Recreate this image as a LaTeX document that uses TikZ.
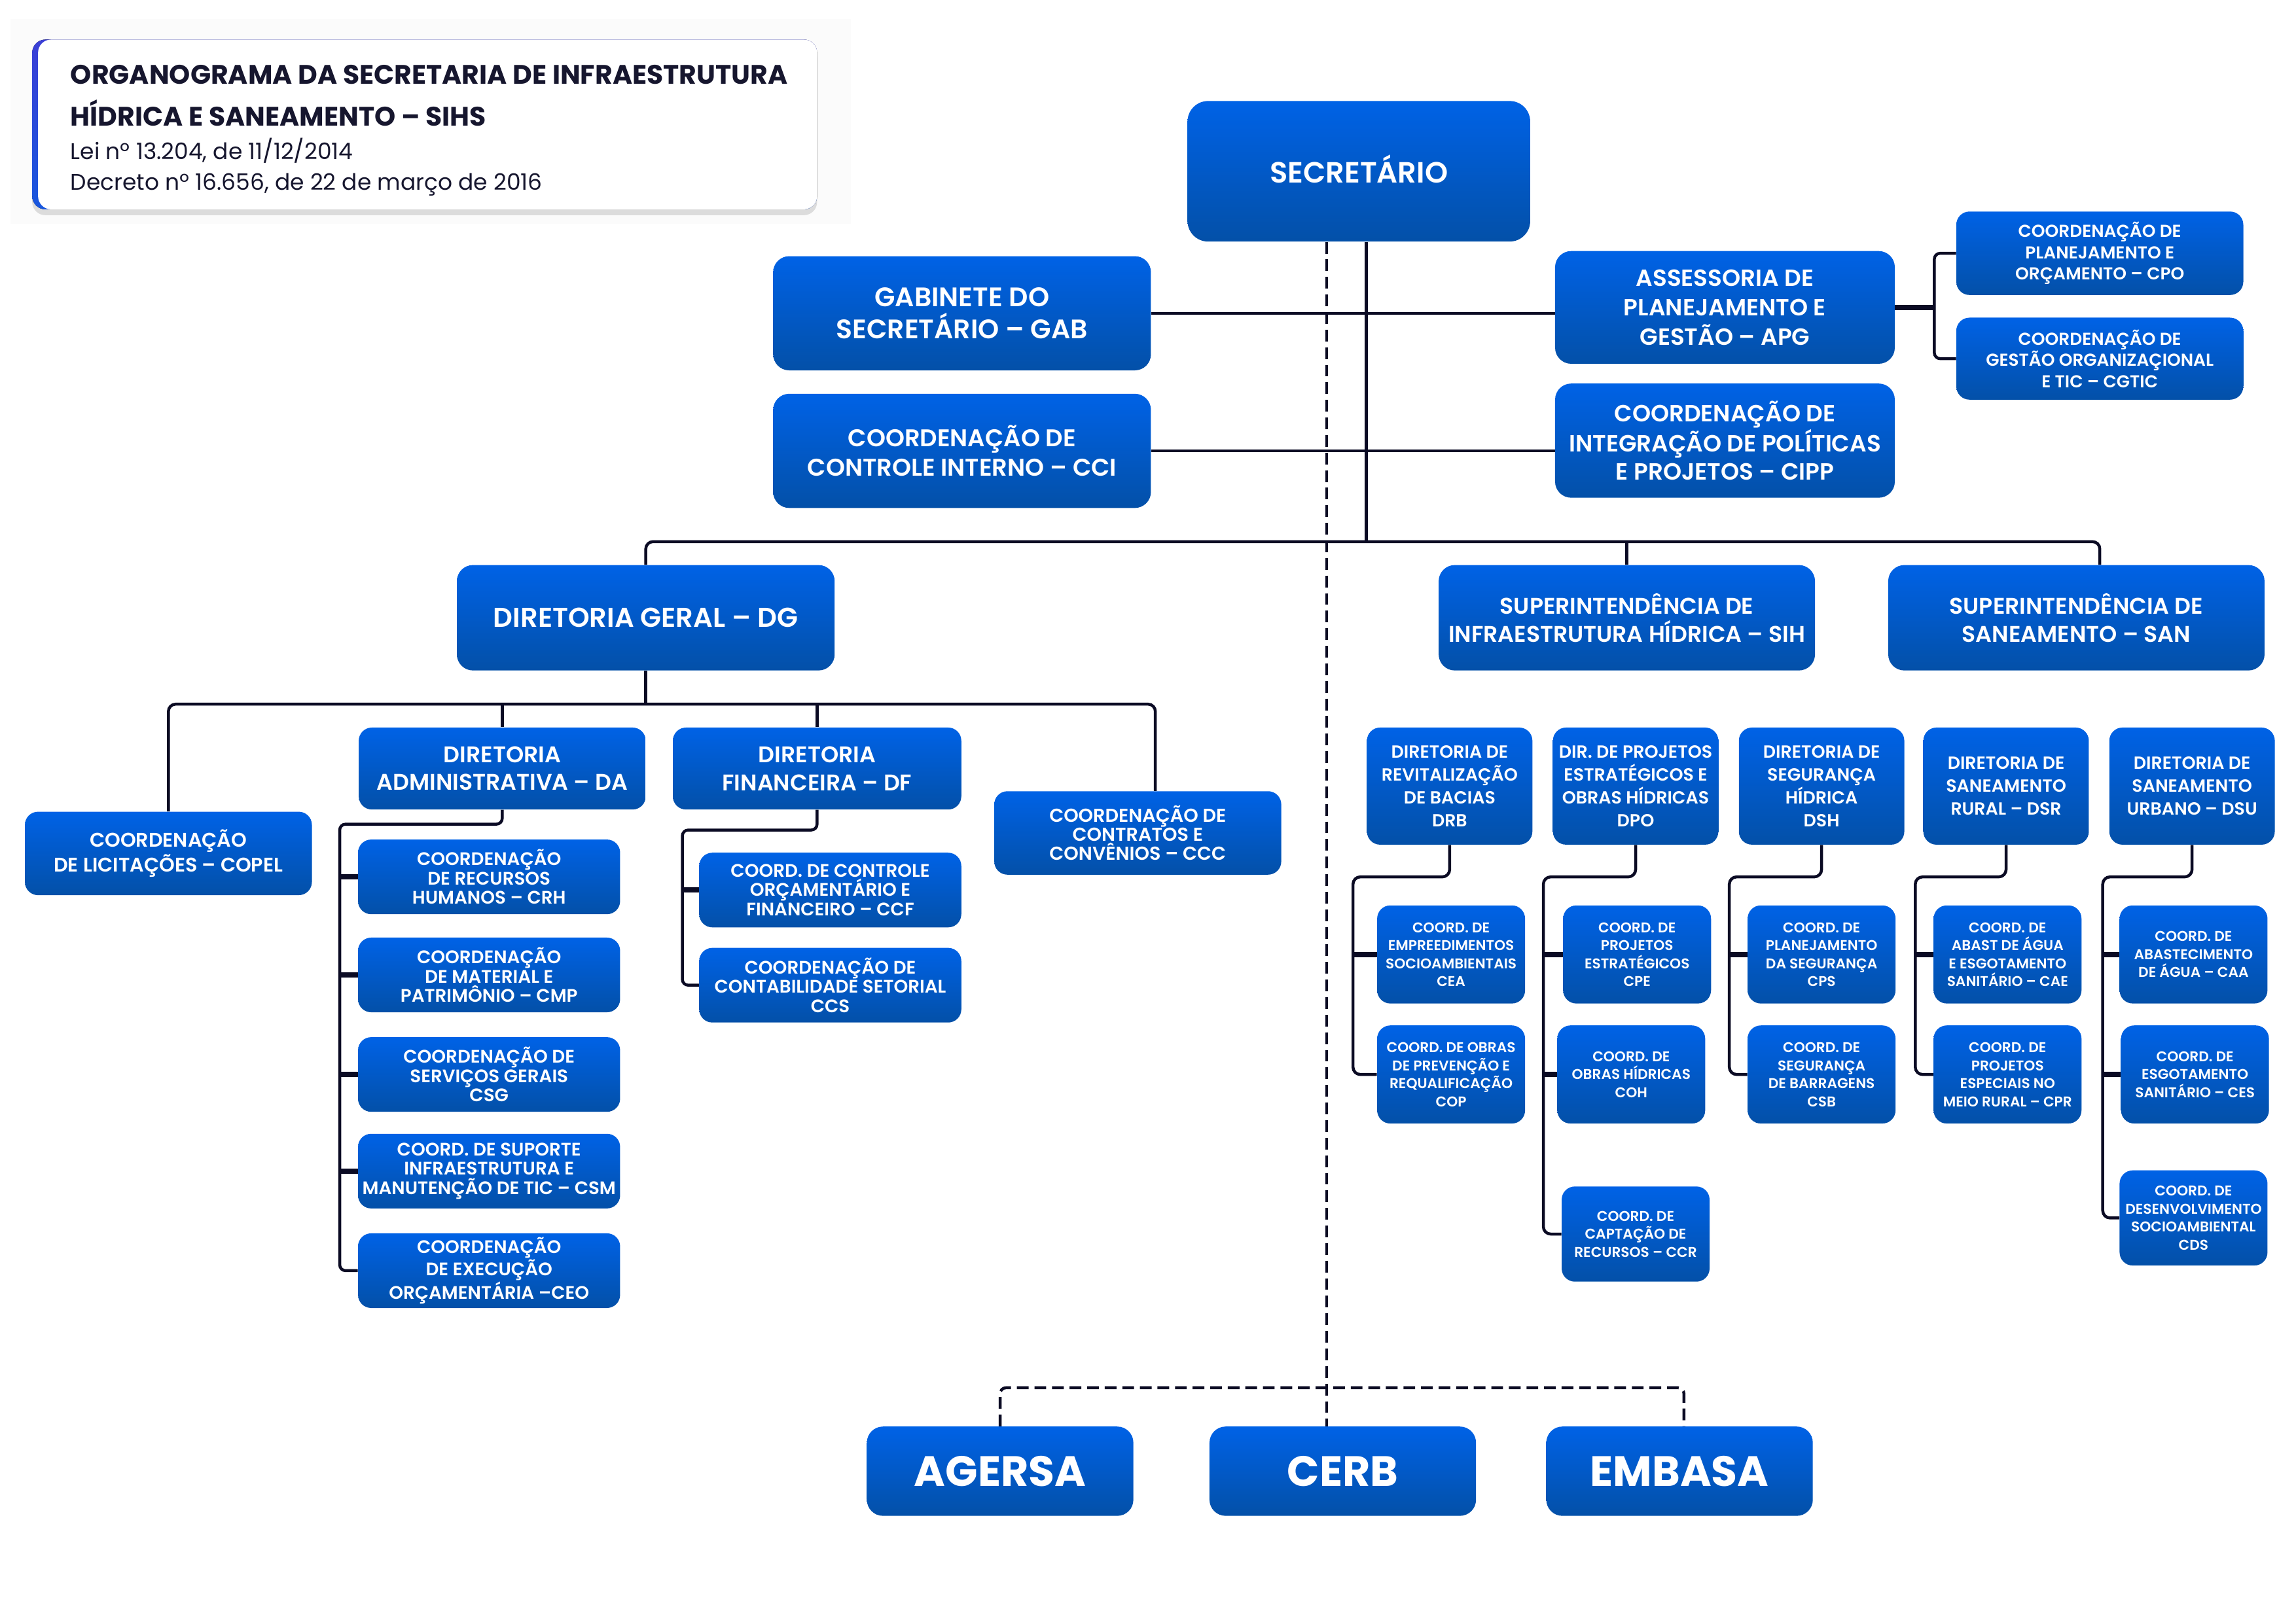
\documentclass[tikz,border=0pt]{standalone}
\usepackage{fontspec}
\setmainfont{Poppins}[BoldFont={Poppins SemiBold}]
\newfontfamily\heavyfont{Poppins Bold}
\usetikzlibrary{shadows,calc}
\definecolor{btop}{HTML}{0062E6}
\definecolor{bbot}{HTML}{0350A8}
\definecolor{ln}{HTML}{0B0B24}
\definecolor{ttl}{HTML}{16162E}
\definecolor{acctop}{HTML}{3B3FD6}
\definecolor{accbot}{HTML}{1857DE}
\newcommand\myfs[2]{\fontsize{#1}{#2}\selectfont}
\tikzset{
  box/.style={rectangle, rounded corners=9pt, top color=btop, bottom color=bbot, draw=none, text=white, align=center, inner sep=0pt},
  conn/.style={draw=ln, line width=2pt},
  stub/.style={draw=ln, line width=3.5pt},
  dconn/.style={draw=ln, line width=2pt, dash pattern=on 8pt off 4pt},
  fsub/.style={font=\bfseries\myfs{9.7}{12.3}},
  fdir/.style={font=\bfseries\myfs{12}{15.6}},
  fda/.style={font=\bfseries\myfs{12.4}{13.2}},
  fbig/.style={font=\heavyfont\myfs{29}{32}},
}
\begin{document}
\begin{tikzpicture}[x=1pt,y=-1pt]
\useasboundingbox[fill=white] (0,0) rectangle (1568,1109);

% title card
\fill[gray!3] (7,13) rectangle (581,153);
\fill[top color=acctop, bottom color=accbot, rounded corners=9pt, drop shadow={opacity=0.25, shadow xshift=0pt, shadow yshift=-4pt}] (22,27) rectangle (558,143);
\fill[white, rounded corners=9pt] (26,27) rectangle (558,143);
\node[anchor=west, inner sep=0pt, text=ttl, font=\heavyfont\myfs{18.3}{26}] (t1) at (48,51) {ORGANOGRAMA DA SECRETARIA DE INFRAESTRUTURA};
\node[anchor=west, inner sep=0pt, text=ttl, font=\heavyfont\myfs{18.3}{26}] (t2) at (48,77) {HÍDRICA E SANEAMENTO – SIHS};
\node[anchor=west, inner sep=0pt, text=ttl, font=\myfs{15.4}{20}] (t3) at (48,103) {Lei nº 13.204, de 11/12/2014};
\node[anchor=west, inner sep=0pt, text=ttl, font=\myfs{15.4}{20}] (t4) at (48,126) {Decreto nº 16.656, de 22 de março de 2016};

% top level
\node[box, rounded corners=14pt, minimum width=234, minimum height=96, font=\bfseries\myfs{20}{24}] (sec) at (928,117) {\raisebox{3pt}{SECRETÁRIO}};
\node[box, rounded corners=11pt, minimum width=258, minimum height=78, font=\bfseries\myfs{18.3}{22}] (gab) at (657,214) {GABINETE DO\\SECRETÁRIO – GAB};
\node[box, rounded corners=11pt, minimum width=258, minimum height=78, font=\bfseries\myfs{16.5}{20}] (cci) at (657,308) {COORDENAÇÃO DE\\CONTROLE INTERNO – CCI};
\node[box, rounded corners=11pt, minimum width=232, minimum height=77, font=\bfseries\myfs{16}{20}] (apg) at (1178,210) {ASSESSORIA DE\\PLANEJAMENTO E\\GESTÃO – APG};
\node[box, rounded corners=11pt, minimum width=232, minimum height=78, font=\bfseries\myfs{16}{19.5}] (cipp) at (1178,301) {COORDENAÇÃO DE\\INTEGRAÇÃO DE POLÍTICAS\\E PROJETOS – CIPP};
\node[box, minimum width=196, minimum height=57, font=\bfseries\myfs{11.8}{14.5}] (cpo) at (1434,173) {COORDENAÇÃO DE\\PLANEJAMENTO E\\ORÇAMENTO – CPO};
\node[box, minimum width=196, minimum height=56, font=\bfseries\myfs{11.8}{14.5}] (cgtic) at (1434,245) {COORDENAÇÃO DE\\GESTÃO ORGANIZAÇIONAL\\E TIC – CGTIC};

% second level
\node[box, rounded corners=11pt, minimum width=258, minimum height=72, font=\bfseries\myfs{18.6}{22}] (dg) at (441,422) {DIRETORIA GERAL – DG};
\node[box, rounded corners=11pt, minimum width=257, minimum height=72, font=\bfseries\myfs{15.5}{19.5}] (sih) at (1111,422) {SUPERINTENDÊNCIA DE\\INFRAESTRUTURA HÍDRICA – SIH};
\node[box, rounded corners=11pt, minimum width=257, minimum height=72, font=\bfseries\myfs{15.5}{19.5}] (san) at (1418,422) {SUPERINTENDÊNCIA DE\\SANEAMENTO – SAN};

% DG subtree
\node[box, minimum width=196, minimum height=57, font=\bfseries\myfs{13.5}{17}] (copel) at (115,583) {COORDENAÇÃO\\DE LICITAÇÕES – COPEL};
\node[box, minimum width=196, minimum height=56, font=\bfseries\myfs{15.5}{19}] (da) at (343,525) {DIRETORIA\\ADMINISTRATIVA – DA};
\node[box, minimum width=197, minimum height=56, font=\bfseries\myfs{15.5}{19}] (df) at (558,525) {DIRETORIA\\FINANCEIRA – DF};
\node[box, minimum width=196, minimum height=57, font=\bfseries\myfs{12.8}{13}] (ccc) at (777,569) {COORDENAÇÃO DE\\CONTRATOS E\\CONVÊNIOS – CCC};
\node[box, minimum width=179, minimum height=51, fda] (crh) at (334,599) {COORDENAÇÃO\\DE RECURSOS\\HUMANOS – CRH};
\node[box, minimum width=179, minimum height=51, fda] (cmp) at (334,666) {COORDENAÇÃO\\DE MATERIAL E\\PATRIMÔNIO – CMP};
\node[box, minimum width=179, minimum height=51, fda] (csg) at (334,734) {COORDENAÇÃO DE\\SERVIÇOS GERAIS\\CSG};
\node[box, minimum width=179, minimum height=51, fda] (csm) at (334,800) {COORD. DE SUPORTE\\INFRAESTRUTURA E\\MANUTENÇÃO DE TIC – CSM};
\node[box, minimum width=179, minimum height=51, fda] (ceo) at (334,868) {COORDENAÇÃO\\DE EXECUÇÃO\\ORÇAMENTÁRIA –CEO};
\node[box, minimum width=179, minimum height=51, fda] (ccf) at (567,608) {COORD. DE CONTROLE\\ORÇAMENTÁRIO E\\FINANCEIRO – CCF};
\node[box, minimum width=179, minimum height=51, fda] (ccs) at (567,673) {COORDENAÇÃO DE\\CONTABILIDADE SETORIAL\\CCS};

% SIH / SAN directorates
\node[box, minimum width=113, minimum height=80, fdir] (drb) at (990,537) {DIRETORIA DE\\REVITALIZAÇÃO\\DE BACIAS\\DRB};
\node[box, minimum width=113, minimum height=80, fdir] (dpo) at (1117,537) {DIR. DE PROJETOS\\ESTRATÉGICOS E\\OBRAS HÍDRICAS\\DPO};
\node[box, minimum width=113, minimum height=80, fdir] (dsh) at (1244,537) {DIRETORIA DE\\SEGURANÇA\\HÍDRICA\\DSH};
\node[box, minimum width=113, minimum height=80, fdir] (dsr) at (1370,537) {DIRETORIA DE\\SANEAMENTO\\RURAL – DSR};
\node[box, minimum width=113, minimum height=80, fdir] (dsu) at (1497,537) {DIRETORIA DE\\SANEAMENTO\\URBANO – DSU};

\node[box, minimum width=101, minimum height=67, fsub] (cea) at (991,652) {COORD. DE\\EMPREEDIMENTOS\\SOCIOAMBIENTAIS\\CEA};
\node[box, minimum width=101, minimum height=67, fsub] (cop) at (991,734) {COORD. DE OBRAS\\DE PREVENÇÃO E\\REQUALIFICAÇÃO\\COP};
\node[box, minimum width=101, minimum height=67, fsub] (cpe) at (1118,652) {COORD. DE\\PROJETOS\\ESTRATÉGICOS\\CPE};
\node[box, minimum width=101, minimum height=67, fsub] (coh) at (1114,734) {COORD. DE\\OBRAS HÍDRICAS\\COH};
\node[box, minimum width=101, minimum height=65, fsub] (ccr) at (1117,843) {COORD. DE\\CAPTAÇÃO DE\\RECURSOS – CCR};
\node[box, minimum width=101, minimum height=67, fsub] (cps) at (1244,652) {COORD. DE\\PLANEJAMENTO\\DA SEGURANÇA\\CPS};
\node[box, minimum width=101, minimum height=67, fsub] (csb) at (1244,734) {COORD. DE\\SEGURANÇA\\DE BARRAGENS\\CSB};
\node[box, minimum width=101, minimum height=67, fsub] (cae) at (1371,652) {COORD. DE\\ABAST DE ÁGUA\\E ESGOTAMENTO\\SANITÁRIO – CAE};
\node[box, minimum width=101, minimum height=67, fsub] (cpr) at (1371,734) {COORD. DE\\PROJETOS\\ESPECIAIS NO\\MEIO RURAL – CPR};
\node[box, minimum width=101, minimum height=67, fsub] (caa) at (1498,652) {COORD. DE\\ABASTECIMENTO\\DE ÁGUA – CAA};
\node[box, minimum width=101, minimum height=67, fsub] (ces) at (1499,734) {COORD. DE\\ESGOTAMENTO\\SANITÁRIO – CES};
\node[box, minimum width=101, minimum height=65, fsub] (cds) at (1498,832) {COORD. DE\\DESENVOLVIMENTO\\SOCIOAMBIENTAL\\CDS};

% bottom entities
\node[box, rounded corners=11pt, minimum width=182, minimum height=61, fbig] (agersa) at (683,1005) {AGERSA};
\node[box, rounded corners=11pt, minimum width=182, minimum height=61, fbig] (cerb) at (917,1005) {CERB};
\node[box, rounded corners=11pt, minimum width=182, minimum height=61, fbig] (embasa) at (1147,1005) {EMBASA};

% ---------- connectors ----------
\coordinate (sroot) at ($(sec.south)+(5,0)$);
\coordinate (droot) at ($(sec.south)+(-22,0)$);
\draw[conn] (sroot) -- (sroot |- 0,370);
\draw[dconn] (droot) -- (droot |- cerb.north);
\draw[conn] (gab.east) -- (gab.east -| apg.west);
\draw[conn] (cci.east) -- (cci.east -| cipp.west);
\draw[stub] (apg.east) -- (apg.east -| 1321,0);
\draw[conn, rounded corners=4pt] (cpo.west) -- (cpo.west -| 1321,0) -- (cgtic.west -| 1321,0) -- (cgtic.west);
\coordinate (sandrop) at ($(san.north)+(16,0)$);
\draw[conn, rounded corners=5pt] (dg.north) -- (dg.north |- 0,370) -- (sandrop |- 0,370) -- (sandrop);
\draw[conn] (sih.north) -- (sih.north |- 0,370);

% DG
\draw[conn] (dg.south) -- (dg.south |- 0,481);
\coordinate (cccdrop) at ($(ccc.north)+(12,0)$);
\draw[conn, rounded corners=5pt] (copel.north) -- (copel.north |- 0,481) -- (cccdrop |- 0,481) -- (cccdrop);
\draw[conn] (da.north) -- (da.north |- 0,481);
\draw[conn] (df.north) -- (df.north |- 0,481);

% DA
\draw[conn, rounded corners=4pt] (da.south) -- (da.south |- 0,563) -- (232,563) -- (ceo.west -| 232,0) -- (ceo.west);
\foreach \c in {crh,cmp,csg,csm} \draw[stub] (\c.west -| 232,0) -- (\c.west);
% DF
\draw[conn, rounded corners=4pt] (df.south) -- (df.south |- 0,567) -- (466,567) -- (ccs.west -| 466,0) -- (ccs.west);
\draw[stub] (ccf.west -| 466,0) -- (ccf.west);

% right subtrees
\draw[conn, rounded corners=5pt] (drb.south) -- (drb.south |- 0,599) -- (924,599) -- (cop.west -| 924,0) -- (cop.west);
\draw[stub] (cea.west -| 924,0) -- (cea.west);
\draw[conn, rounded corners=5pt] (dpo.south) -- (dpo.south |- 0,599) -- (1054,599) -- (ccr.west -| 1054,0) -- (ccr.west);
\draw[stub] (cpe.west -| 1054,0) -- (cpe.west);
\draw[stub] (coh.west -| 1054,0) -- (coh.west);
\draw[conn, rounded corners=5pt] (dsh.south) -- (dsh.south |- 0,599) -- (1181,599) -- (csb.west -| 1181,0) -- (csb.west);
\draw[stub] (cps.west -| 1181,0) -- (cps.west);
\draw[conn, rounded corners=5pt] (dsr.south) -- (dsr.south |- 0,599) -- (1308,599) -- (cpr.west -| 1308,0) -- (cpr.west);
\draw[stub] (cae.west -| 1308,0) -- (cae.west);
\draw[conn, rounded corners=5pt] (dsu.south) -- (dsu.south |- 0,599) -- (1436,599) -- (cds.west -| 1436,0) -- (cds.west);
\draw[stub] (caa.west -| 1436,0) -- (caa.west);
\draw[stub] (ces.west -| 1436,0) -- (ces.west);

% bottom dashed
\coordinate (embdrop) at ($(embasa.north)+(3,0)$);
\draw[dconn, rounded corners=4pt] (agersa.north) -- (agersa.north |- 0,948) -- (embdrop |- 0,948) -- (embdrop);
\end{tikzpicture}
\end{document}
